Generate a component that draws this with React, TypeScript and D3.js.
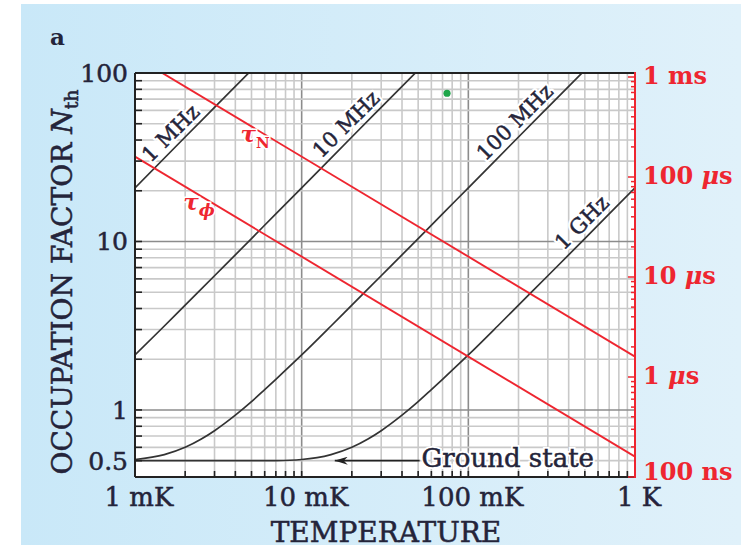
import React from "react";
import * as d3 from "d3";

// ---------- data ----------
// Occupation factor N_th vs temperature (mK) for four oscillator frequencies
const T_1MHZ = [1, 2, 3, 5];
const N_1MHZ = [20.8, 41.7, 62.5, 104];

const T_10MHZ = [1, 1.5, 2, 3, 5, 7, 10, 20, 30, 50];
const N_10MHZ = [2.12, 3.15, 4.19, 6.26, 10.4, 14.6, 20.8, 41.7, 62.5, 104];

const T_100MHZ = [1, 1.5, 2, 2.5, 3, 4, 5, 6, 7, 10, 15, 20, 30, 50, 70, 100, 200, 300, 500];
const N_100MHZ = [0.508, 0.543, 0.6, 0.672, 0.753, 0.931, 1.12, 1.32, 1.52, 2.12, 3.15, 4.19, 6.26, 10.4, 14.6, 20.8, 41.7, 62.5, 104];

const T_1GHZ = [1, 5, 7, 10, 15, 20, 25, 30, 40, 50, 60, 70, 100, 150, 200, 300, 500, 700, 1000];
const N_1GHZ = [0.5, 0.5, 0.501, 0.508, 0.543, 0.6, 0.672, 0.753, 0.931, 1.12, 1.32, 1.52, 2.12, 3.15, 4.19, 6.26, 10.4, 14.6, 20.8];

const FREQ_LABELS = ["1 MHz", "10 MHz", "100 MHz", "1 GHz"];
// label anchor points on each curve (T in mK, N)
const FREQ_LABEL_T = [1.86, 21, 216, 546];
const FREQ_LABEL_N = [38.7, 43.8, 45, 11.4];

// Time scales (right axis, seconds) vs temperature (mK)
const TAU_T = [1, 1000];
const TAU_N = [1.6e-3, 1.6e-6];
const TAU_PHI = [1.6e-4, 1.6e-7];

// green marker
const DOT_T = [74.5];
const DOT_N = [75.8];

// ground state arrow (T in mK)
const GROUND_ARROW_T = [51, 15.8];
const GROUND_N = 0.5;

// ticks
const X_TICKS = [1, 10, 100, 1000];
const X_TICK_LABELS = ["1 mK", "10 mK", "100 mK", "1 K"];
const Y_TICKS = [0.5, 1, 10, 100];
const Y_TICK_LABELS = ["0.5", "1", "10", "100"];
const R_TICKS = [1e-3, 1e-4, 1e-5, 1e-6, 1e-7];
const R_TICK_NUMS = ["1", "100", "10", "1", "100"];
const R_TICK_UNITS = ["ms", "\u03bcs", "\u03bcs", "\u03bcs", "ns"];

// ---------- layout ----------
const W = 745;
const H = 548;
const L = 135;
const R = 635;
const T = 73;
const B = 477;

const FONT = "'DejaVu Serif', serif";
const INK = "#24243a";
const RED = "#ee2630";

export default function App() {
  const x = d3.scaleLog().domain([1, 1000]).range([L, R]);
  const y = d3.scaleLog().domain([0.4, 100]).range([B, T]);
  const yr = d3.scaleLog().domain([1e-7, 1e-3]).range([B, 77]);

  const series = [
    [T_1MHZ, N_1MHZ],
    [T_10MHZ, N_10MHZ],
    [T_100MHZ, N_100MHZ],
    [T_1GHZ, N_1GHZ],
  ];
  const line = d3
    .line<[number, number]>()
    .x((d) => x(d[0]))
    .y((d) => y(d[1]))
    .curve(d3.curveMonotoneX);
  const rline = d3
    .line<[number, number]>()
    .x((d) => x(d[0]))
    .y((d) => yr(d[1]));

  const xMinor = x.ticks().filter((v) => v > 1 && v < 1000);
  const yMinor = y.ticks().filter((v) => v > 0.4 && v < 100);
  const rMinor = yr.ticks().filter((v) => v >= 1e-7 && v <= 1.09e-3);
  const isMajor = (v: number) => Math.abs(Math.log10(v) - Math.round(Math.log10(v))) < 1e-6;

  const heavy = { stroke: INK, strokeWidth: 0.5 };

  return (
    <svg
      width={W}
      height={H}
      style={{ position: "absolute", left: 0, top: 0, display: "block" }}
      fontFamily={FONT}
    >
      <defs>
        <linearGradient id="bg" x1="0" x2="1" y1="0" y2="0">
          <stop offset="0" stopColor="#c9e8f8" />
          <stop offset="1" stopColor="#e0f1fa" />
        </linearGradient>
        <clipPath id="plot">
          <rect x={L} y={T} width={R - L} height={B - T} />
        </clipPath>
        <marker id="arr" viewBox="0 0 13 8" refX="13" refY="4" markerWidth="13" markerHeight="8" orient="auto" markerUnits="userSpaceOnUse">
          <path d="M13,4 L0,0 L4,4 L0,8 Z" fill="#222" />
        </marker>
      </defs>
      <rect x={0} y={0} width={W} height={H} fill="#fff" />
      <rect x={21} y={4} width={720} height={541} fill="url(#bg)" />
      <rect x={L} y={T} width={R - L} height={B - T} fill="#fff" />

      {/* grid */}
      <g>
        {xMinor.map((v, i) => (
          <line key={"gx" + i} x1={x(v)} x2={x(v)} y1={T} y2={B} stroke={isMajor(v) ? "#8c8c8c" : "#c9c9c9"} strokeWidth={1.6} />
        ))}
        {yMinor.map((v, i) => (
          <line key={"gy" + i} x1={L} x2={R} y1={y(v)} y2={y(v)} stroke={isMajor(v) ? "#8c8c8c" : "#c9c9c9"} strokeWidth={1.6} />
        ))}
      </g>

      <g clipPath="url(#plot)">
        {series.map(([ts, ns], i) => (
          <path
            key={"s" + i}
            d={line(ts.map((t, j) => [t, ns[j]] as [number, number])) || ""}
            fill="none"
            stroke="#333"
            strokeWidth={1.7}
          />
        ))}
        {[TAU_N, TAU_PHI].map((vals, i) => (
          <path
            key={"t" + i}
            d={rline(TAU_T.map((t, j) => [t, vals[j]] as [number, number])) || ""}
            fill="none"
            stroke={RED}
            strokeWidth={1.9}
          />
        ))}
        {DOT_T.map((t, i) => (
          <circle key={"dot" + i} cx={x(t)} cy={y(DOT_N[i])} r={3.6} fill="#1fa64a" />
        ))}
      </g>

      {/* frequency labels */}
      {FREQ_LABELS.map((lab, i) => (
        <g key={"fl" + i} transform={`translate(${x(FREQ_LABEL_T[i])},${y(FREQ_LABEL_N[i])}) rotate(-45)`}>
          <text dy={-6} textAnchor="middle" fontSize={21} fill="#fff" stroke="#fff" strokeWidth={5} strokeLinejoin="round">
            {lab}
          </text>
          <text dy={-6} textAnchor="middle" fontSize={21} fill={INK} {...heavy}>
            {lab}
          </text>
        </g>
      ))}

      {/* tau labels */}
      <text x={x(4.3)} y={yr(1.6e-6 / 4.3e-3) + 22} fill={RED} fontSize={23} fontStyle="italic" fontWeight="bold" stroke="#fff" strokeWidth={3} paintOrder="stroke">
        {"\u03c4"}
        <tspan fontSize={15} fontStyle="normal" dy={6}>N</tspan>
      </text>
      <text x={x(1.95)} y={yr(1.6e-7 / 1.95e-3) + 24} fill={RED} fontSize={23} fontStyle="italic" fontWeight="bold" stroke="#fff" strokeWidth={3} paintOrder="stroke">
        {"\u03c4"}
        <tspan fontSize={17} dy={6}>{"\u03d5"}</tspan>
      </text>

      {/* ground state */}
      <text
        x={x(GROUND_ARROW_T[0]) + 2}
        y={y(GROUND_N) + 6}
        fontSize={26}
        fill="#fff"
        stroke="#fff"
        strokeWidth={4}
      >
        Ground state
      </text>
      <line
        x1={x(GROUND_ARROW_T[0])}
        x2={x(GROUND_ARROW_T[1])}
        y1={y(GROUND_N)}
        y2={y(GROUND_N)}
        stroke="#222"
        strokeWidth={1.6}
        markerEnd="url(#arr)"
      />
      <text x={x(GROUND_ARROW_T[0]) + 2} y={y(GROUND_N) + 6} fontSize={26} fill={INK} {...heavy}>
        Ground state
      </text>

      {/* axes frame */}
      <line x1={L} x2={R} y1={T} y2={T} stroke="#222" strokeWidth={2} />
      <line x1={L} x2={R} y1={B} y2={B} stroke="#222" strokeWidth={2} />
      <line x1={L} x2={L} y1={T} y2={B} stroke="#222" strokeWidth={2} />
      <line x1={R} x2={R} y1={T - 1} y2={B + 1} stroke={RED} strokeWidth={2} />

      {/* ticks */}
      {y.ticks().filter((v) => v > 0.4 && v <= 100).map((v, i) => (
        <line key={"yt" + i} x1={L} x2={L + 7} y1={y(v)} y2={y(v)} stroke="#222" strokeWidth={1.6} />
      ))}
      {x.ticks().filter((v) => v > 1 && v < 1000).map((v, i) => (
        <line key={"xt" + i} x1={x(v)} x2={x(v)} y1={B} y2={B - 6} stroke="#222" strokeWidth={1.6} />
      ))}
      {rMinor.map((v, i) => (
        <line key={"rt" + i} x1={R} x2={R - (isMajor(v) ? 7 : 4)} y1={yr(v)} y2={yr(v)} stroke={RED} strokeWidth={1.5} />
      ))}

      {/* tick labels */}
      {Y_TICKS.map((v, i) => (
        <text key={"yl" + i} x={128} y={y(v)} dy="0.36em" textAnchor="end" fontSize={25} fill={INK} {...heavy}>
          {Y_TICK_LABELS[i]}
        </text>
      ))}
      {X_TICKS.map((v, i) => (
        <text key={"xl" + i} x={x(v) + 4} y={506} textAnchor="middle" fontSize={26} fill={INK} {...heavy}>
          {X_TICK_LABELS[i]}
        </text>
      ))}
      {R_TICKS.map((v, i) => (
        <text
          key={"rl" + i}
          x={643}
          y={Math.min(yr(v) + 7, 480)}
          fontSize={24}
          fontWeight="bold"
          fill={RED}
        >
          {R_TICK_NUMS[i] + " "}
          <tspan fontStyle={R_TICK_UNITS[i] === "\u03bcs" ? "italic" : "normal"}>{R_TICK_UNITS[i].charAt(0)}</tspan>
          {R_TICK_UNITS[i].slice(1)}
        </text>
      ))}

      {/* titles */}
      <text x={386} y={542} textAnchor="middle" fontSize={28} fill={INK} {...heavy}>
        TEMPERATURE
      </text>
      <text transform="rotate(-90)" x={-282} y={72} textAnchor="middle" fontSize={28} fill={INK} {...heavy}>
        OCCUPATION FACTOR{" "}
        <tspan fontStyle="italic">N</tspan>
        <tspan fontSize={19} dy={6}>th</tspan>
      </text>
      <text x={50} y={45} fontSize={23} fontWeight="bold" fill={INK}>
        a
      </text>
    </svg>
  );
}
